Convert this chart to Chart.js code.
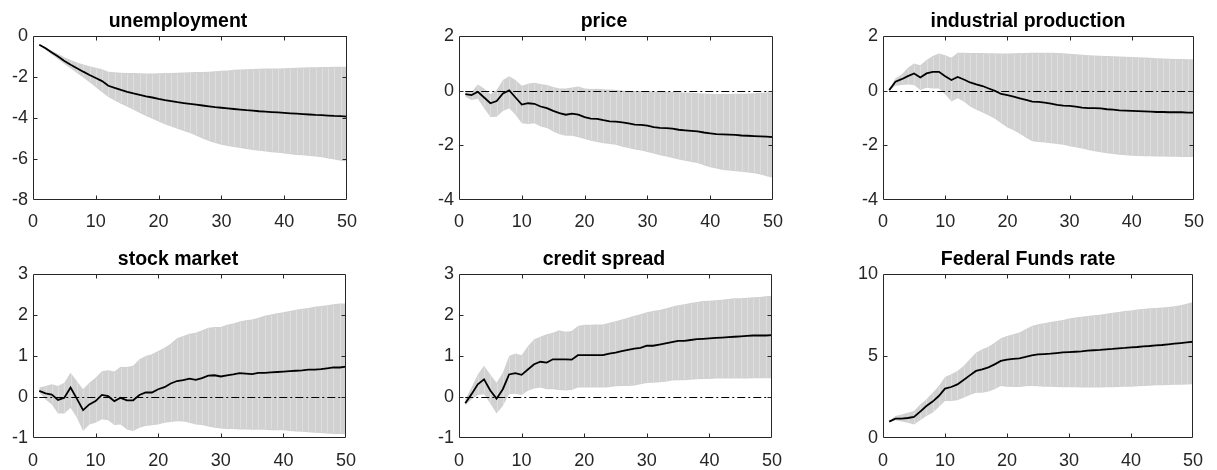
<!DOCTYPE html>
<html>
<head>
<meta charset="utf-8">
<script src="https://cdn.jsdelivr.net/npm/chart.js@4/dist/chart.umd.min.js"></script>
<style>
  html, body { margin: 0; padding: 0; background: #fff; overflow: hidden; }
  #wrap { position: relative; width: 1217px; height: 470px; }
  #wrap canvas { position: absolute; }
</style>
</head>
<body>
<div id="wrap"></div>
<script>
// Forecast horizon (periods after the shock)
const periods = [
  1, 2, 3, 4, 5, 6, 7, 8, 9, 10,
  11, 12, 13, 14, 15, 16, 17, 18, 19, 20,
  21, 22, 23, 24, 25, 26, 27, 28, 29, 30,
  31, 32, 33, 34, 35, 36, 37, 38, 39, 40,
  41, 42, 43, 44, 45, 46, 47, 48, 49, 50
];
const xTicks = [0, 10, 20, 30, 40, 50];

// unemployment
const unempMed = [
  -0.43, -0.6, -0.8, -1.0, -1.22, -1.4, -1.57, -1.74, -1.9, -2.05,
  -2.2, -2.43, -2.53, -2.63, -2.72, -2.8, -2.87, -2.94, -3.0, -3.07,
  -3.13, -3.18, -3.23, -3.27, -3.31, -3.35, -3.39, -3.43, -3.47, -3.5,
  -3.53, -3.56, -3.59, -3.62, -3.64, -3.67, -3.69, -3.71, -3.73, -3.75,
  -3.77, -3.79, -3.81, -3.83, -3.85, -3.86, -3.88, -3.9, -3.91, -3.93
];
const unempUp = [
  -0.4, -0.55, -0.72, -0.88, -1.04, -1.17, -1.29, -1.39, -1.47, -1.55,
  -1.62, -1.74, -1.77, -1.79, -1.8, -1.81, -1.82, -1.83, -1.83, -1.82,
  -1.81, -1.8, -1.79, -1.78, -1.77, -1.76, -1.75, -1.74, -1.72, -1.7,
  -1.68, -1.65, -1.63, -1.62, -1.61, -1.6, -1.59, -1.58, -1.58, -1.57,
  -1.56, -1.55, -1.54, -1.53, -1.52, -1.51, -1.51, -1.5, -1.5, -1.5
];
const unempLo = [
  -0.46, -0.68, -0.9, -1.13, -1.36, -1.58, -1.8, -2.03, -2.26, -2.5,
  -2.74, -2.98, -3.15, -3.3, -3.45, -3.6, -3.75, -3.9, -4.04, -4.17,
  -4.3, -4.42, -4.53, -4.63, -4.73, -4.86, -5.0, -5.12, -5.22, -5.3,
  -5.36, -5.41, -5.46, -5.51, -5.56, -5.6, -5.64, -5.67, -5.7, -5.73,
  -5.77, -5.8, -5.82, -5.85, -5.88, -5.92, -5.97, -6.03, -6.08, -6.12
];
const unempTicks = [-8, -6, -4, -2, 0];

// price
const priceMed = [
  -0.13, -0.16, -0.04, -0.25, -0.46, -0.38, -0.1, 0.01, -0.25, -0.51,
  -0.46, -0.48, -0.58, -0.64, -0.74, -0.82, -0.88, -0.84, -0.88, -0.97,
  -1.02, -1.03, -1.08, -1.12, -1.13, -1.16, -1.2, -1.24, -1.25, -1.28,
  -1.33, -1.36, -1.37, -1.39, -1.43, -1.45, -1.47, -1.49, -1.53, -1.56,
  -1.59, -1.6, -1.61, -1.62, -1.64, -1.65, -1.66, -1.67, -1.68, -1.7
];
const priceUp = [
  0.0, -0.05, 0.23, 0.08, -0.13, 0.02, 0.39, 0.53, 0.39, 0.18,
  0.25, 0.29, 0.24, 0.21, 0.13, 0.08, 0.08, 0.12, 0.15, 0.08,
  0.06, 0.07, 0.05, 0.04, 0.02, 0.01, -0.01, -0.01, -0.01, -0.02,
  -0.03, -0.04, -0.04, -0.05, -0.06, -0.07, -0.08, -0.09, -0.1, -0.11,
  -0.12, -0.12, -0.12, -0.11, -0.11, -0.1, -0.09, -0.08, -0.07, -0.06
];
const priceLo = [
  -0.22, -0.34, -0.3, -0.64, -0.96, -0.95, -0.74, -0.64, -0.88, -1.19,
  -1.22, -1.19, -1.31, -1.37, -1.49, -1.59, -1.65, -1.65, -1.7, -1.77,
  -1.83, -1.88, -1.92, -1.95, -1.98, -2.05, -2.1, -2.15, -2.19, -2.24,
  -2.3, -2.36, -2.41, -2.46, -2.52, -2.56, -2.61, -2.65, -2.73, -2.8,
  -2.85, -2.9, -2.92, -2.95, -2.97, -2.99, -3.02, -3.07, -3.13, -3.19
];
const priceTicks = [-4, -2, 0, 2];

// industrial production
const ipMed = [
  0.02, 0.33, 0.42, 0.53, 0.63, 0.48, 0.63, 0.69, 0.69, 0.53,
  0.39, 0.5, 0.41, 0.3, 0.23, 0.17, 0.08, -0.01, -0.12, -0.16,
  -0.22, -0.28, -0.34, -0.4, -0.41, -0.44, -0.47, -0.52, -0.55, -0.56,
  -0.58, -0.62, -0.64, -0.64, -0.65, -0.68, -0.69, -0.72, -0.73, -0.74,
  -0.75, -0.76, -0.77, -0.78, -0.78, -0.79, -0.79, -0.79, -0.8, -0.8
];
const ipUp = [
  0.03, 0.45, 0.59, 0.84, 0.99, 0.93, 1.12, 1.27, 1.36, 1.3,
  1.2, 1.39, 1.39, 1.38, 1.38, 1.38, 1.37, 1.37, 1.36, 1.36,
  1.37, 1.38, 1.38, 1.39, 1.39, 1.39, 1.39, 1.38, 1.37, 1.35,
  1.33, 1.31, 1.3, 1.29, 1.28, 1.27, 1.26, 1.25, 1.24, 1.23,
  1.22, 1.21, 1.2, 1.19, 1.18, 1.17, 1.16, 1.16, 1.15, 1.15
];
const ipLo = [
  0.01, 0.18, 0.21, 0.23, 0.21, 0.02, 0.11, 0.08, 0.08, -0.13,
  -0.4, -0.28, -0.4, -0.58, -0.7, -0.8, -0.91, -1.03, -1.19, -1.35,
  -1.45, -1.58, -1.72, -1.85, -1.88, -1.9, -1.92, -1.95, -1.98, -2.03,
  -2.07, -2.12, -2.17, -2.22, -2.25, -2.29, -2.32, -2.34, -2.36, -2.38,
  -2.39, -2.4, -2.4, -2.41, -2.41, -2.42, -2.42, -2.43, -2.43, -2.43
];
const ipTicks = [-4, -2, 0, 2];

// stock market
const stockMed = [
  0.15, 0.09, 0.06, -0.07, -0.02, 0.23, -0.04, -0.32, -0.18, -0.1,
  0.05, 0.02, -0.1, -0.02, -0.08, -0.08, 0.05, 0.11, 0.11, 0.19,
  0.24, 0.33, 0.39, 0.41, 0.45, 0.42, 0.46, 0.52, 0.53, 0.5,
  0.53, 0.55, 0.58, 0.57, 0.56, 0.59, 0.59, 0.6, 0.61, 0.62,
  0.63, 0.64, 0.65, 0.67, 0.67, 0.68, 0.7, 0.72, 0.72, 0.74
];
const stockUp = [
  0.23, 0.27, 0.31, 0.27, 0.35, 0.59, 0.39, 0.19, 0.35, 0.47,
  0.63, 0.65, 0.62, 0.74, 0.73, 0.76, 0.92, 1.0, 1.04, 1.12,
  1.2, 1.3, 1.43, 1.49, 1.54, 1.57, 1.63, 1.69, 1.71, 1.71,
  1.76, 1.79, 1.84, 1.87, 1.89, 1.93, 1.98, 2.01, 2.04, 2.07,
  2.1, 2.13, 2.15, 2.17, 2.2, 2.22, 2.24, 2.26, 2.28, 2.28
];
const stockLo = [
  0.11, -0.06, -0.18, -0.4, -0.4, -0.26, -0.5, -0.83, -0.67, -0.63,
  -0.54, -0.57, -0.68, -0.67, -0.79, -0.83, -0.75, -0.71, -0.69, -0.67,
  -0.63, -0.61, -0.59, -0.6, -0.63, -0.67, -0.68, -0.72, -0.75, -0.77,
  -0.78, -0.78, -0.79, -0.79, -0.8, -0.8, -0.8, -0.81, -0.81, -0.81,
  -0.83, -0.84, -0.85, -0.86, -0.87, -0.88, -0.89, -0.9, -0.9, -0.91
];
const stockTicks = [-1, 0, 1, 2, 3];

// credit spread
const creditMed = [
  -0.15, 0.07, 0.31, 0.43, 0.16, -0.04, 0.19, 0.55, 0.58, 0.54,
  0.67, 0.8, 0.86, 0.84, 0.92, 0.92, 0.92, 0.91, 1.02, 1.02,
  1.02, 1.02, 1.02, 1.06, 1.08, 1.12, 1.15, 1.18, 1.2, 1.25,
  1.25, 1.28, 1.31, 1.34, 1.37, 1.37, 1.39, 1.41, 1.42, 1.43,
  1.44, 1.45, 1.46, 1.47, 1.48, 1.49, 1.5, 1.5, 1.5, 1.51
];
const creditUp = [
  -0.06, 0.23, 0.55, 0.76, 0.55, 0.35, 0.59, 1.0, 1.06, 1.02,
  1.24, 1.41, 1.47, 1.53, 1.57, 1.63, 1.59, 1.61, 1.73, 1.76,
  1.76, 1.77, 1.77, 1.81, 1.85, 1.89, 1.93, 1.98, 2.02, 2.07,
  2.1, 2.12, 2.16, 2.2, 2.24, 2.26, 2.29, 2.32, 2.34, 2.35,
  2.36, 2.37, 2.39, 2.41, 2.41, 2.42, 2.43, 2.44, 2.46, 2.47
];
const creditLo = [
  -0.2, -0.06, 0.05, 0.07, -0.16, -0.4, -0.22, 0.07, 0.08, 0.05,
  0.15, 0.21, 0.23, 0.19, 0.19, 0.17, 0.16, 0.17, 0.23, 0.23,
  0.23, 0.23, 0.23, 0.24, 0.26, 0.27, 0.27, 0.28, 0.31, 0.34,
  0.35, 0.36, 0.37, 0.4, 0.41, 0.41, 0.42, 0.43, 0.44, 0.44,
  0.45, 0.45, 0.45, 0.45, 0.45, 0.45, 0.46, 0.46, 0.46, 0.46
];
const creditTicks = [-1, 0, 1, 2, 3];

// Federal Funds rate
const fedMed = [
  1.0, 1.18, 1.18, 1.22, 1.28, 1.61, 1.95, 2.22, 2.56, 3.01,
  3.11, 3.27, 3.54, 3.82, 4.09, 4.19, 4.31, 4.49, 4.7, 4.78,
  4.82, 4.86, 4.94, 5.04, 5.1, 5.12, 5.14, 5.18, 5.22, 5.24,
  5.26, 5.28, 5.33, 5.35, 5.37, 5.41, 5.43, 5.47, 5.49, 5.53,
  5.55, 5.59, 5.61, 5.65, 5.67, 5.71, 5.75, 5.79, 5.83, 5.87
];
const fedUp = [
  1.04, 1.34, 1.44, 1.54, 1.65, 2.05, 2.36, 2.76, 3.17, 3.72,
  3.88, 4.09, 4.39, 4.8, 5.2, 5.41, 5.57, 5.81, 6.08, 6.22,
  6.32, 6.44, 6.63, 6.83, 6.93, 6.99, 7.07, 7.13, 7.2, 7.28,
  7.34, 7.4, 7.44, 7.48, 7.52, 7.58, 7.64, 7.68, 7.74, 7.78,
  7.83, 7.87, 7.91, 7.93, 7.95, 7.99, 8.03, 8.09, 8.19, 8.29
];
const fedLo = [
  0.98, 1.08, 1.0, 0.93, 0.83, 1.08, 1.34, 1.54, 1.89, 2.26,
  2.26, 2.3, 2.46, 2.62, 2.76, 2.76, 2.83, 2.97, 3.17, 3.13,
  3.11, 3.11, 3.15, 3.17, 3.15, 3.13, 3.12, 3.11, 3.1, 3.09,
  3.09, 3.08, 3.08, 3.08, 3.08, 3.09, 3.1, 3.11, 3.12, 3.13,
  3.15, 3.17, 3.19, 3.21, 3.22, 3.23, 3.24, 3.25, 3.26, 3.27
];
const fedTicks = [0, 5, 10];

const panels = [
  { title: 'unemployment',          med: unempMed,  up: unempUp,  lo: unempLo,  ticks: unempTicks,  col: 0, row: 0 },
  { title: 'price',                 med: priceMed,  up: priceUp,  lo: priceLo,  ticks: priceTicks,  col: 1, row: 0 },
  { title: 'industrial production', med: ipMed,     up: ipUp,     lo: ipLo,     ticks: ipTicks,     col: 2, row: 0 },
  { title: 'stock market',          med: stockMed,  up: stockUp,  lo: stockLo,  ticks: stockTicks,  col: 0, row: 1 },
  { title: 'credit spread',         med: creditMed, up: creditUp, lo: creditLo, ticks: creditTicks, col: 1, row: 1 },
  { title: 'Federal Funds rate',    med: fedMed,    up: fedUp,    lo: fedLo,    ticks: fedTicks,    col: 2, row: 1 }
];

// grid geometry (page pixels)
const plotLeft = [33, 459, 883];
const plotWidth = 323;
const plotTop = [36, 274];
const plotHeight = 164;
const yAxisW = 33;
const titleH = 36;
const xAxisH = [34, 32];
const xLabelPad = [13, 14];
const padRight = [14, 14, 11];

const FONT = "'Liberation Sans', Arial, Helvetica, sans-serif";
const AXIS_COLOR = '#262626';
const BAND_COLOR = '#d1d1d1';
const SEAM_COLOR = 'rgba(255,255,255,0.28)';

// faint seams between the band's per-period pieces, then the dash-dot zero line,
// both drawn just before the median line (dataset 0) so it stays on top
const bandDetail = {
  id: 'bandDetail',
  beforeDatasetDraw(chart, args) {
    if (args.index !== 0) return;
    const { ctx, chartArea: a, scales } = chart;
    const up = chart.data.datasets[2].data;
    const lo = chart.data.datasets[3].data;
    ctx.save();
    ctx.beginPath();
    ctx.rect(a.left, a.top, a.right - a.left, a.bottom - a.top);
    ctx.clip();
    ctx.strokeStyle = SEAM_COLOR;
    ctx.lineWidth = 1;
    ctx.beginPath();
    for (let i = 1; i < up.length - 1; i++) {
      const px = Math.round(scales.x.getPixelForValue(up[i].x)) + 0.5;
      ctx.moveTo(px, scales.y.getPixelForValue(up[i].y) + 1);
      ctx.lineTo(px, scales.y.getPixelForValue(lo[i].y) - 1);
    }
    ctx.stroke();
    // zero reference line
    const zy = Math.round(scales.y.getPixelForValue(0)) + (chart.$zeroAtEdge ? -0.5 : 0.5);
    const x0 = scales.x.getPixelForValue(periods[0]);
    const x1 = scales.x.getPixelForValue(periods[periods.length - 1]);
    ctx.strokeStyle = '#000';
    ctx.setLineDash([8, 3, 2, 3]);
    ctx.beginPath();
    ctx.moveTo(x0, zy);
    ctx.lineTo(x1, zy);
    ctx.stroke();
    ctx.restore();
  }
};

// box around the axes with inward tick marks on all four sides
const boxTicks = {
  id: 'boxTicks',
  afterDatasetsDraw(chart) {
    const { ctx, chartArea: a, scales } = chart;
    const L = Math.round(a.left) + 0.5, R = Math.round(a.right) - 0.5;
    const T = Math.round(a.top) + 0.5, B = Math.round(a.bottom) - 0.5;
    const len = 4;
    ctx.save();
    ctx.strokeStyle = AXIS_COLOR;
    ctx.lineWidth = 1;
    ctx.beginPath();
    ctx.rect(L, T, R - L, B - T);
    scales.x.ticks.forEach(t => {
      const px = Math.round(scales.x.getPixelForValue(t.value)) + 0.5;
      if (px <= L + 1 || px >= R - 1) return;
      ctx.moveTo(px, B); ctx.lineTo(px, B - len);
      ctx.moveTo(px, T); ctx.lineTo(px, T + len);
    });
    scales.y.ticks.forEach(t => {
      const py = Math.round(scales.y.getPixelForValue(t.value)) + 0.5;
      if (py <= T + 1 || py >= B - 1) return;
      ctx.moveTo(L, py); ctx.lineTo(L + len, py);
      ctx.moveTo(R, py); ctx.lineTo(R - len, py);
    });
    ctx.stroke();
    ctx.restore();
  }
};

const wrap = document.getElementById('wrap');

panels.forEach(p => {
  const w = yAxisW + plotWidth + padRight[p.col];
  const h = titleH + plotHeight + xAxisH[p.row];
  const canvas = document.createElement('canvas');
  canvas.width = w; canvas.height = h;
  canvas.style.left = (plotLeft[p.col] - yAxisW) + 'px';
  canvas.style.top = (plotTop[p.row] - titleH) + 'px';
  canvas.style.width = w + 'px'; canvas.style.height = h + 'px';
  wrap.appendChild(canvas);

  const pts = arr => periods.map((k, i) => ({ x: k, y: arr[i] }));
  const yMin = p.ticks[0], yMax = p.ticks[p.ticks.length - 1];

  const chart = new Chart(canvas, {
    type: 'line',
    data: {
      datasets: [
        { data: pts(p.med), borderColor: '#000', borderWidth: 1.8, pointRadius: 0, tension: 0, fill: false },
        { data: [], pointRadius: 0, fill: false },
        { data: pts(p.up), borderWidth: 0, borderColor: 'rgba(0,0,0,0)', pointRadius: 0, tension: 0,
          fill: '+1', backgroundColor: BAND_COLOR },
        { data: pts(p.lo), borderWidth: 0, borderColor: 'rgba(0,0,0,0)', pointRadius: 0, tension: 0, fill: false }
      ]
    },
    options: {
      responsive: false,
      animation: false,
      devicePixelRatio: 1,
      events: [],
      layout: { padding: { left: 0, right: padRight[p.col], top: 0, bottom: 0 } },
      plugins: {
        legend: { display: false },
        tooltip: { enabled: false },
        title: {
          display: true, text: p.title, color: '#000',
          font: { family: FONT, size: 19.5, weight: 'bold', lineHeight: 1 },
          padding: { top: 12, bottom: 4.5 }
        }
      },
      scales: {
        x: {
          type: 'linear', min: 0, max: 50,
          grid: { display: false, drawTicks: false },
          border: { display: false },
          ticks: { color: AXIS_COLOR, padding: xLabelPad[p.row], maxRotation: 0, font: { family: FONT, size: 18, lineHeight: 1 } },
          afterBuildTicks: s => { s.ticks = xTicks.map(v => ({ value: v })); },
          afterFit: s => { s.height = xAxisH[p.row]; }
        },
        y: {
          type: 'linear', min: yMin, max: yMax,
          grid: { display: false, drawTicks: false },
          border: { display: false },
          ticks: { color: AXIS_COLOR, padding: 5, font: { family: FONT, size: 18, lineHeight: 1 } },
          afterBuildTicks: s => { s.ticks = p.ticks.map(v => ({ value: v })); },
          afterFit: s => { s.width = yAxisW; }
        }
      }
    },
    plugins: [bandDetail, boxTicks]
  });
});
</script>
</body>
</html>
